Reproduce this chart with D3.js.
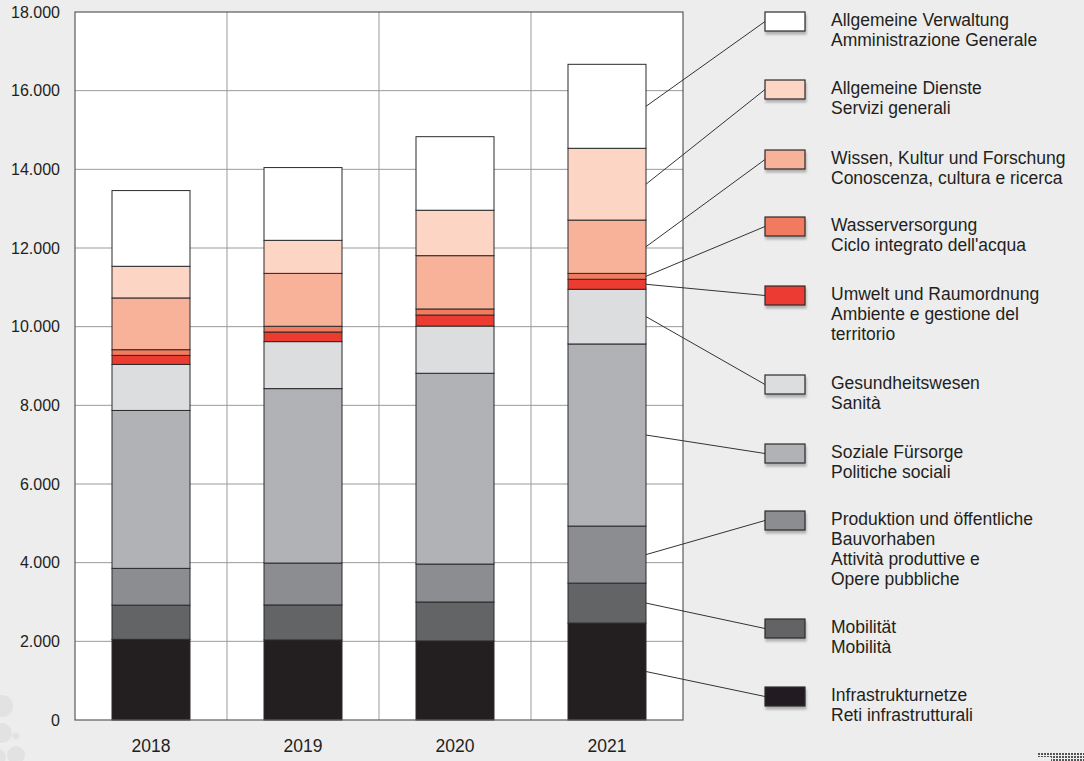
<!DOCTYPE html>
<html>
<head>
<meta charset="utf-8">
<script src="https://cdn.jsdelivr.net/npm/d3@7"></script>
<style>
  html, body { margin: 0; padding: 0; background: #ededed; }
  svg { display: block; font-family: "Liberation Sans", Arial, sans-serif; }
</style>
</head>
<body>
<div id="chart"></div>
<script>
// years on the x axis
var years = ["2018", "2019", "2020", "2021"];

// series, stacked from the bottom up
var seriesKeys = ["infra", "mobil", "prod", "sozial", "sanita", "umwelt", "wasser", "wissen", "dienste", "verwaltung"];

var seriesLabels = {
  infra:      ["Infrastrukturnetze", "Reti infrastrutturali"],
  mobil:      ["Mobilität", "Mobilità"],
  prod:       ["Produktion und öffentliche", "Bauvorhaben", "Attività produttive e", "Opere pubbliche"],
  sozial:     ["Soziale Fürsorge", "Politiche sociali"],
  sanita:     ["Gesundheitswesen", "Sanità"],
  umwelt:     ["Umwelt und Raumordnung", "Ambiente e gestione del", "territorio"],
  wasser:     ["Wasserversorgung", "Ciclo integrato dell'acqua"],
  wissen:     ["Wissen, Kultur und Forschung", "Conoscenza, cultura e ricerca"],
  dienste:    ["Allgemeine Dienste", "Servizi generali"],
  verwaltung: ["Allgemeine Verwaltung", "Amministrazione Generale"]
};

// values per year (2018, 2019, 2020, 2021)
var infra      = [2050, 2035, 2010, 2465];
var mobil      = [870,  890,  990,  1015];
var prod       = [935,  1065, 965,  1450];
var sozial     = [4015, 4435, 4850, 4630];
var sanita     = [1170, 1195, 1200, 1390];
var umwelt     = [230,  245,  280,  255];
var wasser     = [145,  145,  155,  150];
var wissen     = [1315, 1345, 1355, 1355];
var dienste    = [805,  840,  1155, 1825];
var verwaltung = [1925, 1850, 1870, 2135];

var yTicks = [0, 2000, 4000, 6000, 8000, 10000, 12000, 14000, 16000, 18000];

var colors = {
  infra: "#231f20", mobil: "#636466", prod: "#8c8d90", sozial: "#b1b2b5",
  sanita: "#dcdddf", umwelt: "#ec3b30", wasser: "#f27a5e", wissen: "#f8b29a",
  dienste: "#fcd5c5", verwaltung: "#ffffff"
};

var seriesValues = {
  infra: infra, mobil: mobil, prod: prod, sozial: sozial, sanita: sanita,
  umwelt: umwelt, wasser: wasser, wissen: wissen, dienste: dienste, verwaltung: verwaltung
};

// build rows for d3.stack
var rows = years.map(function(y, i) {
  var r = { year: y };
  seriesKeys.forEach(function(k) { r[k] = seriesValues[k][i]; });
  return r;
});

var width  = 1084;
var height = 761;
var plot   = { left: 75, right: 683, top: 12, bottom: 720 };

var x = d3.scaleBand()
  .domain(years)
  .range([plot.left, plot.right])
  .paddingInner(0)
  .paddingOuter(0);

var barWidth = 78;

var y = d3.scaleLinear()
  .domain([0, 18000])
  .range([plot.bottom, plot.top]);

var stacked = d3.stack().keys(seriesKeys)(rows);

var svg = d3.select("#chart")
  .append("svg")
  .attr("width", width)
  .attr("height", height);

svg.append("rect")
  .attr("width", width)
  .attr("height", height)
  .attr("fill", "#ededed");

// decorative dots, bottom left
var deco = [[2, 706, 11], [2, 733, 10], [16, 736, 3.5], [16, 755, 9], [-2, 757, 8]];
svg.selectAll("circle.deco")
  .data(deco)
  .enter().append("circle")
  .attr("class", "deco")
  .attr("cx", function(d) { return d[0]; })
  .attr("cy", function(d) { return d[1]; })
  .attr("r", function(d) { return d[2]; })
  .attr("fill", "#e2e2e2");

// dotted pattern, bottom right
var defs = svg.append("defs");
defs.append("pattern")
  .attr("id", "dots")
  .attr("width", 3)
  .attr("height", 3)
  .attr("patternUnits", "userSpaceOnUse")
  .append("rect")
  .attr("width", 2)
  .attr("height", 2)
  .attr("fill", "#555");
svg.append("rect").attr("x", 1037).attr("y", 752).attr("width", 47).attr("height", 5).attr("fill", "url(#dots)");
svg.append("rect").attr("x", 1051).attr("y", 757).attr("width", 33).attr("height", 4).attr("fill", "url(#dots)");

var shadow = defs.append("filter").attr("id", "shadow").attr("x", "-20%").attr("y", "-20%").attr("width", "150%").attr("height", "180%");
shadow.append("feDropShadow")
  .attr("dx", 1).attr("dy", 3).attr("stdDeviation", 1.2)
  .attr("flood-color", "#000").attr("flood-opacity", 0.25);

// plot background
svg.append("rect")
  .attr("x", plot.left)
  .attr("y", plot.top)
  .attr("width", plot.right - plot.left)
  .attr("height", plot.bottom - plot.top)
  .attr("fill", "#ffffff");

// vertical grid lines between years
svg.selectAll("line.vgrid")
  .data(years.slice(1))
  .enter().append("line")
  .attr("class", "vgrid")
  .attr("x1", function(d) { return x(d); })
  .attr("x2", function(d) { return x(d); })
  .attr("y1", plot.top)
  .attr("y2", plot.bottom)
  .attr("stroke", "#bdbdbd")
  .attr("stroke-width", 1.5);

// horizontal grid lines
svg.selectAll("line.hgrid")
  .data(yTicks.slice(1, -1))
  .enter().append("line")
  .attr("class", "hgrid")
  .attr("x1", plot.left)
  .attr("x2", plot.right)
  .attr("y1", function(d) { return y(d); })
  .attr("y2", function(d) { return y(d); })
  .attr("stroke", "#9a9a9a")
  .attr("stroke-width", 1);

// stacked bars
var layers = svg.selectAll("g.layer")
  .data(stacked)
  .enter().append("g")
  .attr("class", "layer")
  .attr("fill", function(d) { return colors[d.key]; });

layers.selectAll("rect")
  .data(function(d) { return d; })
  .enter().append("rect")
  .attr("x", function(d) { return x(d.data.year) + (x.bandwidth() - barWidth) / 2; })
  .attr("y", function(d) { return y(d[1]); })
  .attr("width", barWidth)
  .attr("height", function(d) { return y(d[0]) - y(d[1]); })
  .attr("stroke", "#2b2b2b")
  .attr("stroke-width", 1);

// plot frame
svg.append("rect")
  .attr("x", plot.left)
  .attr("y", plot.top)
  .attr("width", plot.right - plot.left)
  .attr("height", plot.bottom - plot.top)
  .attr("fill", "none")
  .attr("stroke", "#5a5a5a")
  .attr("stroke-width", 1.2);

// y axis labels
var yAxis = d3.axisLeft(y)
  .tickValues(yTicks)
  .tickSize(0)
  .tickPadding(15)
  .tickFormat(function(d) { return d === 0 ? "0" : d3.format(",")(d).replace(/,/g, "."); });

var yAxisGroup = svg.append("g")
  .attr("transform", "translate(" + plot.left + ",0)")
  .call(yAxis);
yAxisGroup.select(".domain").remove();
yAxisGroup.selectAll("text")
  .attr("font-size", 16)
  .attr("font-family", "Liberation Sans, Arial, sans-serif")
  .attr("fill", "#231f20");

// x axis labels
var xAxis = d3.axisBottom(x).tickSize(0).tickPadding(20);
var xAxisGroup = svg.append("g")
  .attr("transform", "translate(0," + plot.bottom + ")")
  .call(xAxis);
xAxisGroup.select(".domain").remove();
xAxisGroup.selectAll("text")
  .attr("font-size", 17.5)
  .attr("font-family", "Liberation Sans, Arial, sans-serif")
  .attr("fill", "#231f20");

// legend, top item is the last series
var legendKeys = seriesKeys.slice().reverse();
var legendTops = [12, 80, 150, 217, 286, 375, 444, 511, 619, 687];
var swX = 765, swW = 40, swH = 19;
var lastYear = years.length - 1;
var barRight = x(years[lastYear]) + (x.bandwidth() + barWidth) / 2;

var legend = svg.selectAll("g.legend")
  .data(legendKeys)
  .enter().append("g")
  .attr("class", "legend");

// leader lines from the 2021 bar to the legend swatches
legend.append("line")
  .attr("x1", barRight)
  .attr("y1", function(d) {
    var layer = stacked[seriesKeys.indexOf(d)][lastYear];
    return y((layer[0] + layer[1]) / 2);
  })
  .attr("x2", swX)
  .attr("y2", function(d, i) { return legendTops[i] + swH / 2; })
  .attr("stroke", "#333")
  .attr("stroke-width", 1);

legend.append("rect")
  .attr("x", swX)
  .attr("y", function(d, i) { return legendTops[i]; })
  .attr("width", swW)
  .attr("height", swH)
  .attr("fill", function(d) { return colors[d]; })
  .attr("stroke", "#2b2b2b")
  .attr("stroke-width", 1.2)
  .attr("filter", "url(#shadow)");

legend.append("text")
  .attr("x", 831)
  .attr("y", function(d, i) { return legendTops[i] + 13.5; })
  .attr("font-size", 17.5)
  .attr("fill", "#231f20")
  .selectAll("tspan")
  .data(function(d) { return seriesLabels[d]; })
  .enter().append("tspan")
  .attr("x", 831)
  .attr("dy", function(d, i) { return i === 0 ? 0 : 20; })
  .text(function(d) { return d; });
</script>
</body>
</html>
